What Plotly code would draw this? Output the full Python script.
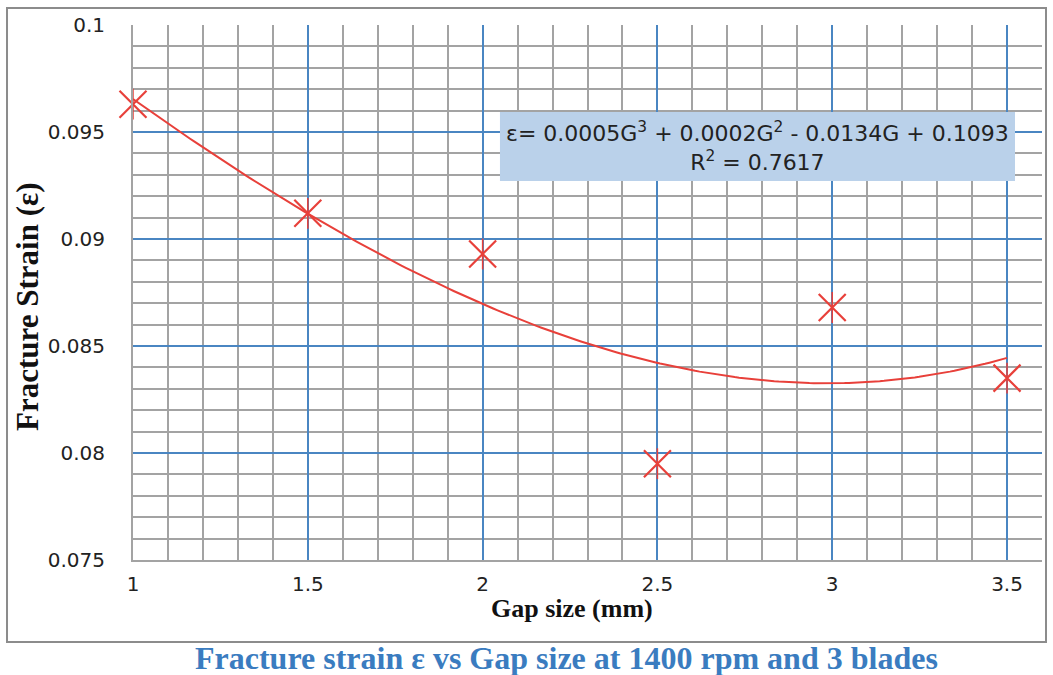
import numpy as np
import plotly.graph_objects as go

gap_mm = [1.0, 1.5, 2.0, 2.5, 3.0, 3.5]
fracture_strain = [0.0963, 0.0912, 0.0893, 0.0795, 0.0868, 0.0835]
x_tick_vals = [1, 1.5, 2, 2.5, 3, 3.5]
x_tick_text = ["1", "1.5", "2", "2.5", "3", "3.5"]
y_tick_vals = [0.075, 0.08, 0.085, 0.09, 0.095, 0.1]
y_tick_text = ["0.075", "0.08", "0.085", "0.09", "0.095", "0.1"]
equation_text = "ε= 0.0005G<sup>3</sup> + 0.0002G<sup>2</sup> - 0.0134G + 0.1093<br>R<sup>2</sup> = 0.7617"
x_title = "Gap size (mm)"
y_title = "Fracture Strain (ε)"
caption = "Fracture strain ε vs Gap size at 1400 rpm and 3 blades"

# cubic trend line (least-squares, as the spreadsheet trendline)
coef = np.polyfit(gap_mm, fracture_strain, 3)
xs = np.linspace(min(gap_mm), max(gap_mm), 200)
ys = np.polyval(coef, xs)

RED = "#e8403a"
SANS = "DejaVu Sans, Open Sans, sans-serif"
SERIF = "Liberation Serif, Times New Roman, serif"

fig = go.Figure()
fig.add_trace(go.Scatter(x=xs, y=ys, mode="lines", line=dict(color=RED, width=2),
                         hoverinfo="skip", showlegend=False))
fig.add_trace(go.Scatter(x=gap_mm, y=fracture_strain, mode="markers", cliponaxis=False,
                         marker=dict(symbol="x-thin-open", size=27, color=RED,
                                     line=dict(color=RED, width=2.2)),
                         showlegend=False))
fig.add_trace(go.Scatter(x=gap_mm, y=fracture_strain, mode="markers", cliponaxis=False,
                         marker=dict(symbol="line-ns-open", size=22, color=RED,
                                     line=dict(color=RED, width=1.5)),
                         showlegend=False, hoverinfo="skip"))

MAJOR = "#4a86c2"
MINOR = "#a3a3a3"
fig.update_xaxes(range=[1, 3.6], tickvals=x_tick_vals, ticktext=x_tick_text,
                 showgrid=True, gridcolor=MAJOR, gridwidth=2,
                 minor=dict(dtick=0.1, tick0=1, showgrid=True, gridcolor=MINOR, gridwidth=1.5),
                 showline=True, linecolor=MINOR, linewidth=2, zeroline=False,
                 ticks="", ticklabelstandoff=5,
                 tickfont=dict(family=SANS, size=20, color="#222"))
fig.update_yaxes(range=[0.075, 0.1], tickvals=y_tick_vals, ticktext=y_tick_text,
                 showgrid=True, gridcolor=MAJOR, gridwidth=2,
                 minor=dict(dtick=0.001, tick0=0.075, showgrid=True, gridcolor=MINOR, gridwidth=1.5),
                 showline=True, linecolor=MINOR, linewidth=2, zeroline=False,
                 ticks="", ticklabelstandoff=22,
                 tickfont=dict(family=SANS, size=20, color="#222"))

# axis titles
fig.add_annotation(xref="paper", yref="paper", x=0.483, y=-0.09, text="<b>" + x_title + "</b>",
                   showarrow=False, xanchor="center", yanchor="middle",
                   font=dict(family=SERIF, size=26, color="#111"))
fig.add_annotation(xref="paper", yref="paper", x=-0.1155, y=0.473, text="<b>" + y_title + "</b>",
                   showarrow=False, xanchor="center", yanchor="middle", textangle=-90,
                   font=dict(family=SERIF, size=31, color="#111"))

# outer frame
fig.add_shape(type="rect", xref="paper", yref="paper", x0=-0.1386, x1=1.0044, y0=-0.1533, y1=1.0318,
              line=dict(color="#8c8c8c", width=2), fillcolor="rgba(0,0,0,0)", layer="below")
# equation box
fig.add_shape(type="rect", xref="paper", yref="paper", x0=0.4037, x1=0.9703, y0=0.7084, y1=0.8374,
              line=dict(width=0), fillcolor="#bad1ea", layer="above")
fig.add_annotation(xref="paper", yref="paper", x=0.687, y=0.773, text=equation_text,
                   showarrow=False, align="center", xanchor="center", yanchor="middle",
                   font=dict(family=SANS, size=22, color="#222"))
fig.add_annotation(xref="paper", yref="paper", x=0.477, y=-0.183, text="<b>" + caption + "</b>",
                   showarrow=False, xanchor="center", yanchor="middle",
                   font=dict(family=SERIF, size=32, color="#3a7cc0"))

fig.update_layout(width=1053, height=675, margin=dict(l=133, r=11, t=25, b=115),
                  plot_bgcolor="white", paper_bgcolor="white")
fig.write_html("out.html")
